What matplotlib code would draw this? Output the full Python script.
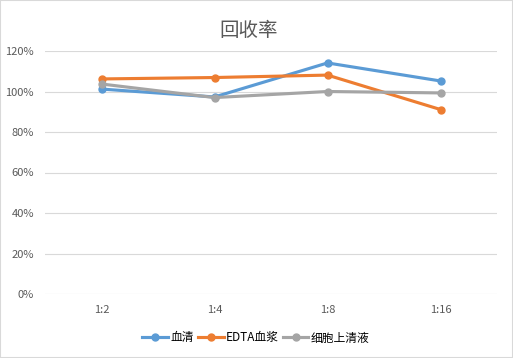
import matplotlib.pyplot as plt
from matplotlib.ticker import PercentFormatter
from matplotlib.patches import Rectangle

plt.rcParams['font.family'] = ['Noto Sans CJK SC', 'DejaVu Sans']

categories = ["1:2", "1:4", "1:8", "1:16"]
serum = [101.2, 97.3, 114.1, 105.2]
edta_plasma = [106.2, 106.9, 108.1, 91.1]
cell_supernatant = [103.7, 97.0, 100.0, 99.3]

series = [
    ("血清", serum, "#5B9BD5"),
    ("EDTA血浆", edta_plasma, "#ED7D31"),
    ("细胞上清液", cell_supernatant, "#A5A5A5"),
]

fig = plt.figure(figsize=(5.13, 3.58), dpi=100)
ax = fig.add_axes([45 / 513, 1 - 294 / 358, 452 / 513, 243 / 358])

x = range(len(categories))
for name, vals, color in series:
    ax.plot(x, vals, color=color, linewidth=2.25, marker="o", markersize=5, label=name)

ax.set_xlim(-0.5, len(categories) - 0.5)
ax.set_ylim(0, 120)
ax.set_yticks(range(0, 121, 20))
ax.yaxis.set_major_formatter(PercentFormatter(decimals=0))
ax.set_xticks(list(x))
ax.set_xticklabels(categories)
ax.tick_params(length=0, labelsize=8, colors="#595959", pad=8)
ax.grid(axis="y", color="#D9D9D9", linewidth=0.8)
ax.set_axisbelow(True)
for s in ax.spines.values():
    s.set_visible(False)

fig.text(249 / 513, 1 - 30 / 358, "回收率", ha="center", va="center", fontsize=14, color="#595959")

fig.legend(loc="center", bbox_to_anchor=(256 / 513, 1 - 338 / 358), ncol=3, frameon=False,
           fontsize=8.5, handlelength=2.2, handletextpad=0.2, columnspacing=0.3)

fig.patches.append(Rectangle((0, 0), 1, 1, transform=fig.transFigure, fill=False,
                             edgecolor="#D9D9D9", linewidth=1.5))

fig.savefig("out.png", dpi=100)
